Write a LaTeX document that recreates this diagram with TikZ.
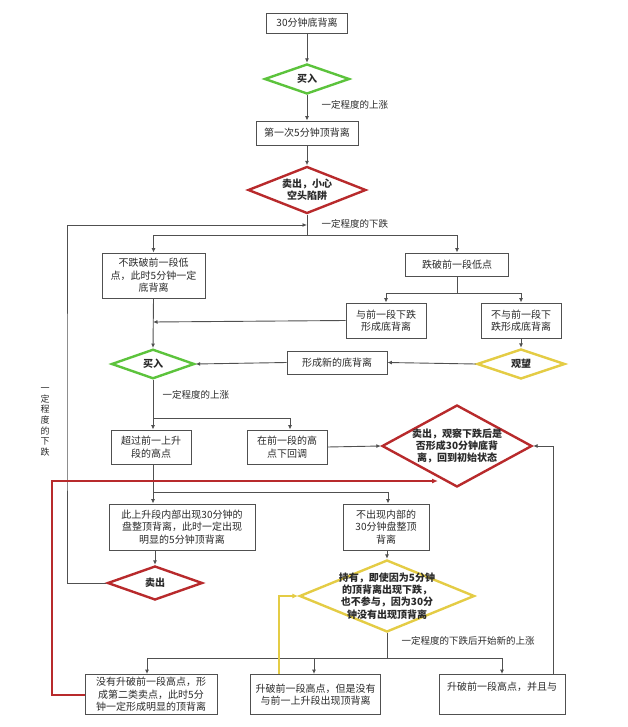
\documentclass[tikz,border=0pt]{standalone}
\usepackage{fontspec}
\setmainfont{Noto Sans CJK SC}
\usepackage{tikz}
\usetikzlibrary{arrows.meta,positioning,shapes.geometric,calc}
\definecolor{buygreen}{HTML}{5CC33C}
\definecolor{sellred}{HTML}{B82A2C}
\definecolor{waityellow}{HTML}{E4CC45}
\definecolor{bk90}{HTML}{2A2A2A}
\definecolor{bk70}{HTML}{505050}
\tikzset{
  stepbox/.style={
    rectangle, draw=bk70, fill=white, line width=0.9pt,
    font=\fontsize{10}{12.5}\selectfont, text=bk90, align=center,
    inner sep=2pt
  },
  decision/.style={
    diamond, draw=#1, fill=white, line width=2.4pt,
    font=\fontsize{10}{12.5}\selectfont\bfseries, text=bk90,
    align=center, inner sep=0pt
  },
  decision/.default=sellred,
  dtext/.style={
    font=\fontsize{10}{12.2}\selectfont\bfseries, text=bk90, align=center
  },
  flowline/.style={draw=bk70, line width=0.9pt},
  flowarrow/.style={
    -{Latex[length=4.5pt,width=4pt]}, draw=bk70, line width=0.9pt
  },
  colorpath/.style={
    -{Latex[length=6pt,width=5pt]}, draw=#1, line width=2pt
  },
  labelnode/.style={
    font=\fontsize{9.5}{11}\selectfont, text=bk90, anchor=west
  },
}

\begin{document}
\begin{tikzpicture}[x=1pt, y=-1pt]
\useasboundingbox (0,0) rectangle (627,727);

% ── top of the chart ──
\node[stepbox, minimum width=81pt, minimum height=20pt] (div30) at (307,23) {30分钟底背离};
\node[decision=buygreen, minimum width=85pt, minimum height=30pt] (buy1) at (307,79) {买入};
\node[stepbox, minimum width=102pt, minimum height=24pt] (top5) at (307,133) {第一次5分钟顶背离};
\node[decision=sellred, minimum width=118pt, minimum height=47pt,
  label={[dtext]center:{卖出，小心\\空头陷阱}}] (sell1) at (307,190) {};
\node[labelnode] (up1) at (318,105) {一定程度的上涨};
\node[labelnode] (down1) at (318,224) {一定程度的下跌};

% ── after the drop ──
\node[stepbox, minimum width=103pt, minimum height=45pt] (nobreak) at (153.5,275.5) {不跌破前一段低\\点，此时5分钟一定\\底背离};
\node[stepbox, minimum width=103pt, minimum height=23pt] (break) at (457,264.5) {跌破前一段低点};
\node[stepbox, minimum width=80pt, minimum height=35pt] (withdiv) at (386,320.5) {与前一段下跌\\形成底背离};
\node[stepbox, minimum width=80pt, minimum height=35pt] (nodiv) at (521,320.5) {不与前一段下\\跌形成底背离};
\node[decision=waityellow, minimum width=88pt, minimum height=30pt] (watch) at (521,364) {观望};
\node[stepbox, minimum width=100pt, minimum height=23pt] (newdiv) at (337,362.5) {形成新的底背离};
\node[decision=buygreen, minimum width=83pt, minimum height=27pt] (buy2) at (153,364) {买入};
\node[labelnode] (up2) at (159,395) {一定程度的上涨};

% ── after the second rise ──
\node[stepbox, minimum width=80pt, minimum height=34pt] (exceed) at (151,447) {超过前一上升\\段的高点};
\node[stepbox, minimum width=80pt, minimum height=34pt] (pullback) at (287,447) {在前一段的高\\点下回调};
\node[decision=sellred, minimum width=150pt, minimum height=82pt,
  label={[dtext]center:{卖出，观察下跌后是\\否形成30分钟底背\\离，回到初始状态}}] (sell2) at (457,446) {};
\node[stepbox, minimum width=146pt, minimum height=46pt] (inner) at (182,527) {此上升段内部出现30分钟的\\盘整顶背离，此时一定出现\\明显的5分钟顶背离};
\node[stepbox, minimum width=86pt, minimum height=46pt] (noinner) at (386,527) {不出现内部的\\30分钟盘整顶\\背离};
\node[decision=sellred, minimum width=95pt, minimum height=34pt] (sell3) at (155,583) {卖出};
\node[decision=waityellow, minimum width=175pt, minimum height=72pt,
  label={[dtext]center:{持有，即使因为5分钟\\的顶背离出现下跌，\\也不参与，因为30分\\钟没有出现顶背离}}] (hold) at (387,596) {};
\node[labelnode] (down2) at (398,641) {一定程度的下跌后开始新的上涨};
\node[font=\fontsize{9}{10.7}\selectfont, text=bk90, align=center] (down3) at (45,422) {一\\定\\程\\度\\的\\下\\跌};

% ── bottom row ──
\node[stepbox, minimum width=132pt, minimum height=40pt] (second) at (151,694.5) {没有升破前一段高点，形\\成第二类卖点，此时5分\\钟一定形成明显的顶背离};
\node[stepbox, minimum width=130pt, minimum height=40pt] (nodivup) at (315.5,694.5) {升破前一段高点，但是没有\\与前一上升段出现顶背离};
\node[stepbox, minimum width=126pt, minimum height=40pt] (divup) at (502,694.5) {升破前一段高点，并且与\\ \strut};

% ── split points ──
\coordinate (split1) at (307,235);
\coordinate (join1) at (307,225);
\coordinate (split2) at (457,293);
\coordinate (join2) at (153,322);
\coordinate (split3) at (153,418);
\coordinate (split4) at (153,492);
\coordinate (split5) at (387,658);
\coordinate (redend) at (438,481);

% ── connectors ──
\draw[flowarrow] (div30) -- (buy1);
\draw[flowarrow] (buy1) -- (top5);
\draw[flowarrow] (top5) -- (sell1);
\draw[flowline] (sell1.south) -- (split1);
\draw[flowarrow] (split1) -| (nobreak.north);
\draw[flowarrow] (split1) -| (break.north);
\draw[flowarrow] (sell3.west) -| (67,400) |- (join1);
\draw[flowline] (break.south) -- (split2);
\draw[flowarrow] (split2) -| (withdiv.north);
\draw[flowarrow] (split2) -| (nodiv.north);
\draw[flowarrow] (withdiv.west) -- (join2);
\draw[flowarrow] (nodiv.south) -- (watch.north);
\draw[flowarrow] (watch.west) -- (newdiv.east);
\draw[flowarrow] (newdiv.west) -- (buy2.east);
\draw[flowarrow] (nobreak.south) -- (buy2.north);
\draw[flowline] (buy2.south) -- (split3);
\draw[flowarrow] (split3) -| (exceed.north -| split3);
\draw[flowarrow] (split3) -| ([xshift=3pt]pullback.north);
\draw[flowarrow] (pullback.east) -- (sell2.west);
\draw[flowline] (exceed.south -| split4) -- (split4);
\draw[flowarrow] (split4) -- (inner.north -| split4);
\draw[flowarrow] (split4) -| ([xshift=2pt]noinner.north);
\draw[flowarrow] (inner.south -| sell3) -- (sell3.north);
\draw[flowarrow] (noinner.south -| hold) -- (hold.north);
\draw[flowline] (hold.south) -- (split5);
\draw[flowarrow] (split5) -| ([xshift=-4pt]second.north);
\draw[flowarrow] (split5) -| ([xshift=-1.5pt]nodivup.north);
\draw[flowarrow] (split5) -| (divup.north);
\draw[flowarrow] ([xshift=51pt]divup.north) |- (sell2.east);
\draw[colorpath=sellred] (second.west) -| (52,600) |- (redend);
\draw[colorpath=waityellow] ([xshift=-36.5pt]nodivup.north) |- (hold.west);

\end{tikzpicture}
\end{document}
